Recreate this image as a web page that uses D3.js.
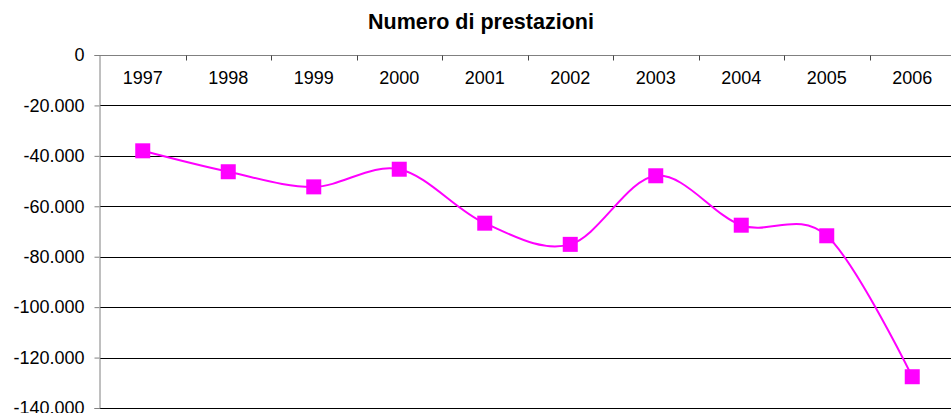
<!DOCTYPE html>
<html>
<head>
<meta charset="utf-8">
<script src="https://cdn.jsdelivr.net/npm/d3@7"></script>
<style>
html,body{margin:0;padding:0;background:#fff;overflow:hidden;}
svg{display:block;}
text{font-family:"Liberation Sans",Arial,sans-serif;fill:#000;}
</style>
</head>
<body>
<svg id="chart" width="951" height="413"></svg>
<script>
const title = "Numero di prestazioni";
const categories = ["1997","1998","1999","2000","2001","2002","2003","2004","2005","2006"];
const values = [-38000,-46300,-52300,-45300,-66700,-75100,-47900,-67500,-71700,-127600];
const yTicks = [0,-20000,-40000,-60000,-80000,-100000,-120000,-140000];

const W = 951, H = 413;
const m = {left: 100, top: 55};
const plotW = 855, plotH = 353;

const svg = d3.select("#chart");
const locale = d3.formatLocale({decimal: ",", thousands: ".", grouping: [3], currency: ["", "€"], minus: "-"});
const fmt = locale.format(",");

const x = d3.scaleBand().domain(categories).range([m.left, m.left + plotW]).padding(0);
const y = d3.scaleLinear().domain([0, -140000]).range([m.top, m.top + plotH]);

// title
svg.append("text")
  .attr("x", 481).attr("y", 29)
  .attr("text-anchor", "middle")
  .style("font-size", "21.5px").style("font-weight", "bold")
  .text(title);

// gridlines
const grid = svg.append("g");
grid.selectAll("line").data(yTicks.filter(d => d !== 0))
  .enter().append("line")
  .attr("x1", m.left).attr("x2", m.left + plotW)
  .attr("y1", d => Math.round(y(d)) + 0.5).attr("y2", d => Math.round(y(d)) + 0.5)
  .attr("stroke", "#000").attr("stroke-width", 1);

// y axis
const yAxis = svg.append("g")
  .attr("transform", `translate(${m.left - 0.5},0)`)
  .call(d3.axisLeft(y).tickValues(yTicks).tickFormat(d => fmt(d)).tickSize(5).tickPadding(10));
yAxis.select(".domain").attr("stroke", "#808080");
yAxis.selectAll(".tick line").attr("stroke", "#808080");
yAxis.selectAll(".tick text").style("font-size", "18px").attr("fill", "#000")
  .attr("font-family", "Liberation Sans, Arial, sans-serif");

// x axis at zero (top), ticks pointing down at band boundaries
const xAxisG = svg.append("g").attr("transform", `translate(0,${Math.round(y(0)) + 0.5})`);
xAxisG.append("line")
  .attr("x1", m.left).attr("x2", m.left + plotW)
  .attr("stroke", "#808080");
xAxisG.selectAll("line.tk").data(categories.slice(1))
  .enter().append("line").attr("class", "tk")
  .attr("x1", d => Math.round(x(d)) + 0.5).attr("x2", d => Math.round(x(d)) + 0.5)
  .attr("y1", 0).attr("y2", 5)
  .attr("stroke", "#444");
svg.append("g").selectAll("text").data(categories)
  .enter().append("text")
  .attr("x", d => x(d) + x.bandwidth() / 2)
  .attr("y", 83.5)
  .attr("text-anchor", "middle")
  .style("font-size", "18px")
  .text(d => d);

// line
const line = d3.line()
  .x((d, i) => x(categories[i]) + x.bandwidth() / 2)
  .y(d => y(d))
  .curve(d3.curveCardinal.tension(0));
svg.append("path")
  .datum(values)
  .attr("d", line)
  .attr("fill", "none")
  .attr("stroke", "#FF00FF")
  .attr("stroke-width", 2);

// markers
const ms = 15;
svg.append("g").selectAll("rect").data(values)
  .enter().append("rect")
  .attr("x", (d, i) => x(categories[i]) + x.bandwidth() / 2 - ms / 2)
  .attr("y", d => y(d) - ms / 2)
  .attr("width", ms).attr("height", ms)
  .attr("fill", "#FF00FF");
</script>
</body>
</html>
